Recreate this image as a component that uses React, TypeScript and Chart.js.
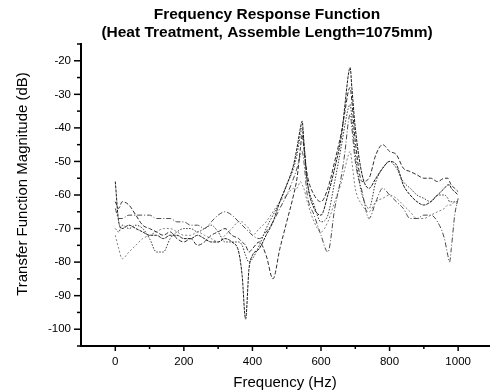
import React, { useEffect, useRef } from "react";
import { Chart, registerables } from "chart.js";

Chart.register(...registerables);

const TITLE_1 = "Frequency Response Function";
const TITLE_2 = "(Heat Treatment, Assemble Length=1075mm)";
const X_TITLE = "Frequency (Hz)";
const Y_TITLE = "Transfer Function Magnitude (dB)";

// tick values (major ones are labelled)
const xTicks = [0, 100, 200, 300, 400, 500, 600, 700, 800, 900, 1000];
const xLabelled = [0, 200, 400, 600, 800, 1000];
const yTicks = [-105, -100, -95, -90, -85, -80, -75, -70, -65, -60, -55, -50, -45, -40, -35, -30, -25, -20, -15];
const yLabelled = [-100, -90, -80, -70, -60, -50, -40, -30, -20];

const freq = [
  0, 10, 20, 40, 60, 80, 100, 120, 140, 160, 180, 200, 220, 240, 260, 280, 300, 320, 340, 360,
  370, 380, 390, 400, 420, 440, 460, 480, 500, 520, 530, 540, 545, 550, 560, 580, 600, 620, 640, 660,
  670, 680, 685, 690, 700, 720, 740, 760, 780, 800, 820, 840, 860, 880, 900, 920, 940, 960, 970, 975,
  980, 990, 1000,
];

const series1 = [
  -56, -68, -70, -69, -70, -71, -72, -72, -73, -72, -72, -73, -73, -72, -73, -74, -74, -73, -74, -77,
  -84, -97, -82, -78, -76, -72, -68, -62, -57, -51, -46, -40, -38, -44, -56, -64, -66, -60, -52, -42,
  -33, -24, -22, -28, -40, -54, -58, -55, -52, -50, -51, -57, -60, -62, -63, -62, -60, -58, -57, -57,
  -58, -59, -60,
];

const series2 = [
  -62, -64, -62, -63, -66, -69, -70, -71, -72, -71, -73, -74, -73, -75, -74, -72, -71, -70, -72, -73,
  -74, -75, -77, -76, -74, -78, -85, -76, -68, -60, -55, -46, -42, -46, -54, -60, -62, -58, -50, -41,
  -35, -29, -28, -32, -44, -56, -55, -48, -45, -47, -48, -52, -53, -54, -55, -55, -56, -55, -55, -56,
  -57, -58, -59,
];

const series3 = [
  -70, -71, -69, -70, -69, -70, -73, -77, -77, -73, -71, -70, -70, -71, -70, -69, -71, -74, -74, -74,
  -75, -78, -80, -79, -75, -70, -66, -62, -57, -52, -48, -42, -40, -45, -56, -63, -68, -66, -56, -45,
  -39, -34, -33, -37, -48, -60, -64, -56, -52, -50, -52, -56, -58, -60, -61, -62, -60, -60, -61, -62,
  -62, -62, -63,
];

const series4 = [
  -64, -67, -67, -66, -66, -66, -66, -67, -67, -67, -68, -68, -69, -69, -70, -68, -66, -65, -66, -68,
  -69, -70, -71, -72, -73, -71, -68, -64, -60, -55, -52, -48, -47, -50, -60, -66, -72, -77, -64, -54,
  -47, -38, -36, -40, -50, -59, -67, -62, -58, -60, -62, -64, -67, -67, -66, -66, -68, -73, -78, -80,
  -76, -66, -61,
];

const series5 = [
  -72, -76, -79, -77, -75, -73, -72, -71, -70, -70, -71, -72, -72, -71, -72, -73, -74, -72, -70, -68,
  -68, -69, -70, -72, -70, -68, -65, -62, -60, -58, -58, -56, -57, -58, -62, -68, -71, -68, -62, -56,
  -52, -48, -47, -50, -58, -63, -65, -62, -61, -60, -61, -63, -65, -67, -67, -66, -65, -64, -63, -63,
  -63, -62, -62,
];

const seriesList = [series1, series2, series3, series4, series5];
const seriesNames = ["Sample 1", "Sample 2", "Sample 3", "Sample 4", "Sample 5"];
const seriesColors = ["#1a1a1a", "#2e2e2e", "#3a3a3a", "#4a4a4a", "#808080"];
const seriesDashes = [[3, 1], [4, 2], [1.5, 1.5], [5, 2, 1, 2], [2, 2]];

const FONT = "'Liberation Sans', Arial, sans-serif";

export default function App() {
  const canvasRef = useRef<HTMLCanvasElement | null>(null);

  useEffect(() => {
    if (!canvasRef.current) return;

    const textPlugin = {
      id: "textPlugin",
      afterDraw(chart: any) {
        const ctx = chart.ctx;
        const area = chart.chartArea;
        ctx.save();
        ctx.fillStyle = "#000";
        ctx.textAlign = "center";
        ctx.textBaseline = "middle";
        ctx.font = `bold 15.5px ${FONT}`;
        ctx.fillText(TITLE_1, 267, 15);
        ctx.fillText(TITLE_2, 267, 33);
        ctx.font = `15px ${FONT}`;
        ctx.fillText(X_TITLE, (area.left + area.right) / 2, 383);
        ctx.translate(23, 184);
        ctx.rotate(-Math.PI / 2);
        ctx.fillText(Y_TITLE, 0, 0);
        ctx.restore();

        // tick marks (major longer than minor)
        ctx.save();
        ctx.strokeStyle = "#000";
        ctx.lineWidth = 1.5;
        const xs = chart.scales.x;
        const ys = chart.scales.y;
        xs.ticks.forEach((t: any) => {
          const px = xs.getPixelForValue(t.value);
          const len = xLabelled.includes(t.value) ? 5 : 3;
          ctx.beginPath();
          ctx.moveTo(px, area.bottom);
          ctx.lineTo(px, area.bottom + len);
          ctx.stroke();
        });
        ys.ticks.forEach((t: any) => {
          const py = ys.getPixelForValue(t.value);
          const len = yLabelled.includes(t.value) ? 7 : 4;
          ctx.beginPath();
          ctx.moveTo(area.left, py);
          ctx.lineTo(area.left - len, py);
          ctx.stroke();
        });
        ctx.restore();
      },
    };

    const chart = new Chart(canvasRef.current, {
      type: "line",
      data: {
        datasets: seriesList.map((s, i) => ({
          label: seriesNames[i],
          data: freq.map((f, j) => ({ x: f, y: s[j] })),
          borderColor: seriesColors[i],
          borderWidth: 1,
          borderDash: seriesDashes[i],
          pointRadius: 0,
          fill: false,
          cubicInterpolationMode: "monotone" as const,
        })),
      },
      options: {
        responsive: false,
        animation: false,
        devicePixelRatio: 1,
        layout: { padding: { top: 44, right: 2, left: 0, bottom: 0 } },
        plugins: {
          legend: { display: false },
          title: { display: false },
          tooltip: { enabled: false },
        },
        scales: {
          x: {
            type: "linear",
            min: -100,
            max: 1090,
            afterBuildTicks: (scale: any) => {
              scale.ticks = xTicks.map((v) => ({ value: v }));
            },
            afterFit: (scale: any) => {
              scale.height = 46;
            },
            ticks: {
              autoSkip: false,
              maxRotation: 0,
              padding: 4,
              color: "#000",
              font: { family: FONT, size: 11.5 },
              callback: (v: any) => (xLabelled.includes(v) ? String(v) : ""),
            },
            grid: {
              display: true,
              drawOnChartArea: false,
              drawTicks: true,
              tickLength: 5,
              tickColor: "rgba(0,0,0,0)",
            },
            border: { display: true, color: "#000", width: 2 },
          },
          y: {
            type: "linear",
            min: -105,
            max: -15,
            afterBuildTicks: (scale: any) => {
              scale.ticks = yTicks.map((v) => ({ value: v }));
            },
            afterFit: (scale: any) => {
              scale.width = 81;
            },
            ticks: {
              autoSkip: false,
              padding: 3,
              color: "#000",
              font: { family: FONT, size: 11.5 },
              callback: (v: any) => (yLabelled.includes(v) ? String(v) : ""),
            },
            grid: {
              display: true,
              drawOnChartArea: false,
              drawTicks: true,
              tickLength: 7,
              tickColor: "rgba(0,0,0,0)",
            },
            border: { display: true, color: "#000", width: 2 },
          },
        },
      },
      plugins: [textPlugin],
    });

    return () => {
      chart.destroy();
    };
  }, []);

  return (
    <div style={{ position: "fixed", left: 0, top: 0, width: 491, height: 392, background: "#fff" }}>
      <canvas ref={canvasRef} width={491} height={392} style={{ display: "block" }} />
    </div>
  );
}
